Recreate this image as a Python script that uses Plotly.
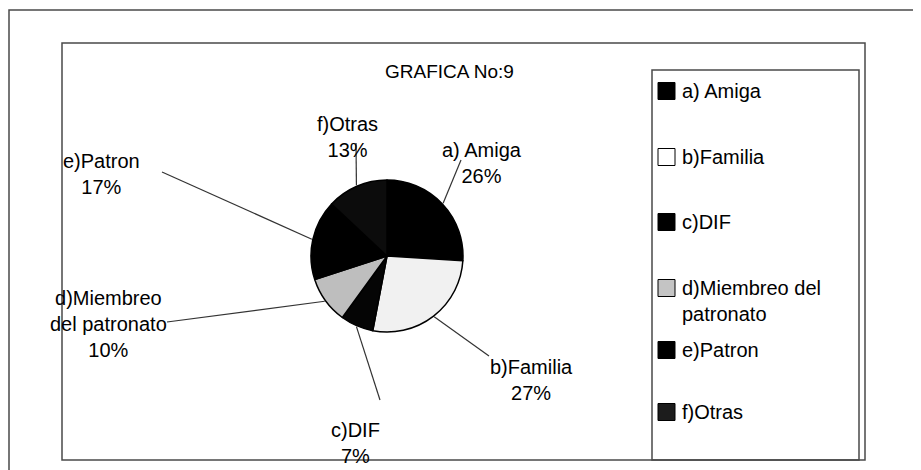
import math
import plotly.graph_objects as go

# ---- data ----
categories = ["a) Amiga", "b)Familia", "c)DIF", "d)Miembreo del patronato", "e)Patron", "f)Otras"]
values = [26, 27, 7, 10, 17, 13]
pie_labels = ["a) Amiga<br>26%", "b)Familia<br>27%", "c)DIF<br>7%",
              "d)Miembreo<br>del patronato<br>10%", "e)Patron<br>17%", "f)Otras<br>13%"]
legend_labels = ["a) Amiga", "b)Familia", "c)DIF", "d)Miembreo del<br>patronato", "e)Patron", "f)Otras"]
title_text = "GRAFICA No:9"

# ---- style ----
OFF = 8  # page body margin
W, H = 921 - OFF, 470 - OFF
slice_colors = ["#000000", "#f1f1f1", "#050505", "#bebebe", "#000000", "#0c0c0c"]
legend_colors = ["#000000", "#ffffff", "#000000", "#c4c4c4", "#000000", "#1c1c1c"]
FONT = "Arial, Liberation Sans, sans-serif"
FS = 20
CX, CY, R = 387, 256, 76

def px(x):
    return (x - OFF) / W

def py(y):
    return 1 - (y - OFF) / H

fig = go.Figure()
fig.add_trace(go.Pie(
    labels=categories, values=values, sort=False, direction="clockwise", rotation=0,
    marker=dict(colors=slice_colors, line=dict(color="#000000", width=1.5)),
    textinfo="none", hoverinfo="label+percent", showlegend=False,
    domain=dict(x=[px(CX - R), px(CX + R)], y=[py(CY + R), py(CY - R)]),
))

shapes = []
annotations = []

# frames
frame_col = "#4a4a4a"
shapes.append(dict(type="rect", xref="paper", yref="paper", x0=px(9), x1=px(920), y0=py(480), y1=py(10),
                   line=dict(color=frame_col, width=1.5)))
shapes.append(dict(type="rect", xref="paper", yref="paper", x0=px(62), x1=px(865), y0=py(460), y1=py(43),
                   line=dict(color=frame_col, width=1.5)))
shapes.append(dict(type="rect", xref="paper", yref="paper", x0=px(652), x1=px(859), y0=py(460), y1=py(70),
                   line=dict(color=frame_col, width=1.5)))

# title
annotations.append(dict(text=title_text, xref="paper", yref="paper", x=px(383), y=py(72),
                        xanchor="left", yanchor="middle", showarrow=False,
                        font=dict(family=FONT, size=19, color="#000")))

# data labels with leader lines (edge point from slice mid-angle)
label_pos = [(482, 163), (531, 380), (355, 443), (108, 324), (101, 174), (347, 137)]
line_end = [(461, 160), (489, 356), (380, 400), (167, 322), (162, 172), (356, 143)]
total = sum(values)
cum = 0
for i, v in enumerate(values):
    mid = (cum + v / 2) / total * 2 * math.pi
    cum += v
    ex = CX + (R + 1) * math.sin(mid)
    ey = CY - (R + 1) * math.cos(mid)
    lx, ly = line_end[i]
    shapes.append(dict(type="line", xref="paper", yref="paper", x0=px(ex), y0=py(ey), x1=px(lx), y1=py(ly),
                       line=dict(color="#333", width=1.2)))
    tx, ty = label_pos[i]
    annotations.append(dict(text=pie_labels[i], xref="paper", yref="paper", x=px(tx), y=py(ty),
                            xanchor="center", yanchor="middle", showarrow=False, align="center",
                            font=dict(family=FONT, size=FS, color="#000")))

# legend
leg_y = [91, 157, 222, 301, 350, 412]
for i, name in enumerate(legend_labels):
    cy = leg_y[i] if i != 3 else 288
    shapes.append(dict(type="rect", xref="paper", yref="paper", x0=px(658), x1=px(675),
                       y0=py(cy + 8.5), y1=py(cy - 8.5), fillcolor=legend_colors[i],
                       line=dict(color="#000", width=1)))
    annotations.append(dict(text=name, xref="paper", yref="paper", x=px(680), y=py(leg_y[i]),
                            xanchor="left", yanchor="middle", showarrow=False, align="left",
                            font=dict(family=FONT, size=FS, color="#000")))

fig.update_layout(
    width=W, height=H, margin=dict(l=0, r=0, t=0, b=0),
    paper_bgcolor="#ffffff", plot_bgcolor="#ffffff",
    shapes=shapes, annotations=annotations, showlegend=False,
)
fig.write_html("out.html")
